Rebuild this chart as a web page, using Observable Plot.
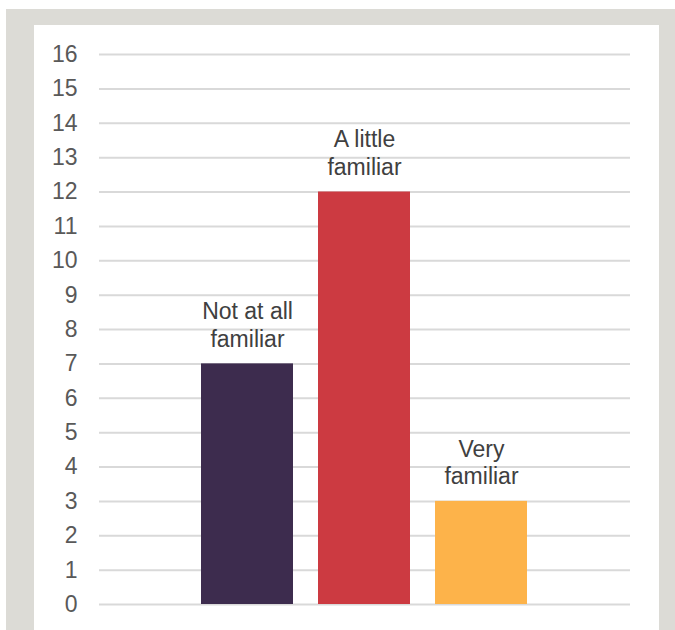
<!DOCTYPE html>
<html>
<head>
<meta charset="utf-8">
<script src="https://cdn.jsdelivr.net/npm/d3@7"></script>
<script src="https://cdn.jsdelivr.net/npm/@observablehq/plot@0.6"></script>
<style>
  html, body { margin: 0; padding: 0; background: #ffffff; }
  #page { position: relative; width: 675px; height: 630px; overflow: hidden; }
  #frame { position: absolute; left: 6px; top: 9px; width: 700px; height: 660px; background: #dcdbd6; }
  #panel { position: absolute; left: 34px; top: 25px; width: 625px; height: 640px; background: #ffffff; }
  #chart { position: absolute; left: 0; top: 0; }
</style>
</head>
<body>
<div id="page">
  <div id="frame"></div>
  <div id="panel"></div>
  <div id="chart"></div>
</div>
<script>
// Familiarity responses (number of respondents)
const categories = ["Not at all familiar", "A little familiar", "Very familiar"];
const labels = ["Not at all\nfamiliar", "A little\nfamiliar", "Very\nfamiliar"];
const counts = [7, 12, 3];
const colors = ["#3d2c4e", "#cc3a41", "#fdb34a"];
const yTicks = [0, 1, 2, 3, 4, 5, 6, 7, 8, 9, 10, 11, 12, 13, 14, 15, 16];

const rows = categories.map((c, i) => ({category: c, label: labels[i], count: counts[i], color: colors[i]}));
const font = "'Liberation Sans', Arial, Helvetica, sans-serif";

const chart = Plot.plot({
  width: 675,
  height: 630,
  marginTop: 54,
  marginBottom: 26,
  marginLeft: 99,
  marginRight: 45,
  style: {background: "transparent", fontFamily: font},
  x: {type: "band", domain: categories, range: [200, 528], paddingInner: 0.212, paddingOuter: 0, axis: null},
  y: {domain: [0, 16], axis: null},
  color: {type: "identity"},
  marks: [
    Plot.ruleY(yTicks, {stroke: "#d9d9d9", strokeWidth: 2}),
    Plot.axisY(yTicks, {
      tickSize: 0,
      tickPadding: 22,
      fontSize: 23,
      fill: "#595959",
      label: null,
      tickFormat: d => String(d)
    }),
    Plot.barY(rows, {x: "category", y: "count", fill: "color"}),
    Plot.text(rows, {
      x: "category",
      y: "count",
      text: "label",
      lineAnchor: "bottom",
      lineHeight: 1.2,
      dy: -17,
      fontSize: 23,
      fill: "#404040",
      textAnchor: "middle"
    })
  ]
});

document.getElementById("chart").appendChild(chart);
</script>
</body>
</html>
